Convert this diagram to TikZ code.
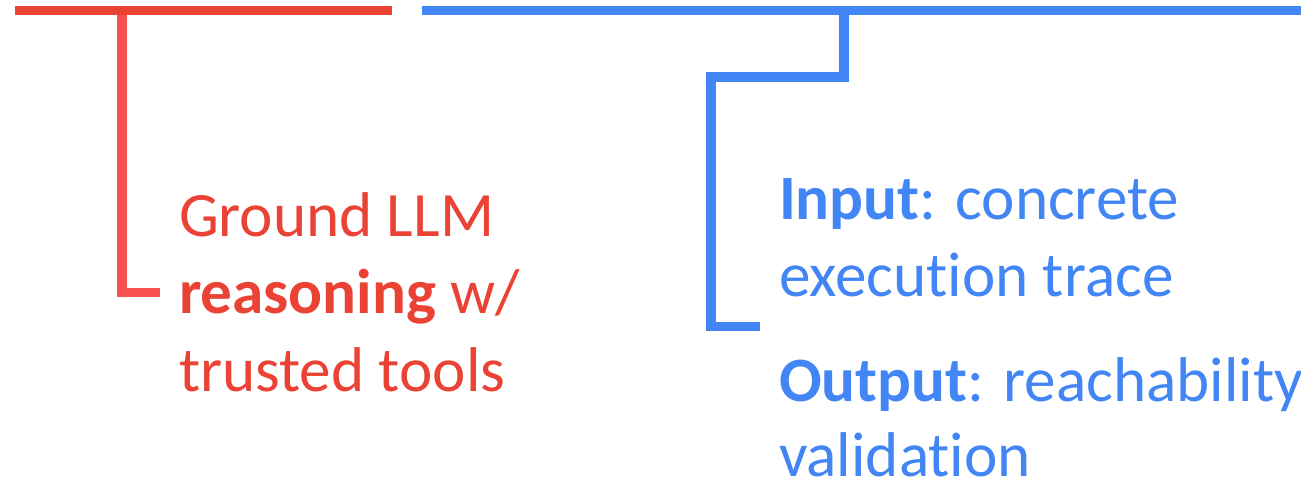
\documentclass[tikz,border=0pt]{standalone}
\usepackage{fontspec}
\setmainfont{Carlito}[Ligatures=NoCommon]
\definecolor{gred}{RGB}{234,67,53}
\definecolor{gredlight}{RGB}{249,80,80}
\definecolor{gblue}{RGB}{66,133,244}
\begin{document}
\begin{tikzpicture}[x=0.5pt,y=-0.5pt,
  bar/.style={line width=4.75pt, line cap=butt, line join=miter},
  txt/.style={anchor=base west, inner sep=0pt, outer sep=0pt,
    font=\fontsize{31.6pt}{38.5pt}\selectfont}]
\useasboundingbox (0,0) rectangle (1301,481);

% top rails
\coordinate (rl) at (15,10.7);
\coordinate (rr) at (392,10.7);
\coordinate (bl) at (422,10.7);
\coordinate (br) at (1301,10.7);
\draw[bar, gred] (rl) -- (rr);
\draw[bar, gblue] (bl) -- (br);

% red text block
\node[txt, text=gred] (g1) at (179,236.7) {Ground LLM};
\node[txt, text=gred] (g2) at (179,313.5) {\textbf{reasoning} w/};
\node[txt, text=gred] (g3) at (179,391) {trusted tools};

% blue text block
\node[txt, text=gblue] (b1) at (779,220) {\textbf{Input}: concrete};
\node[txt, text=gblue] (b2) at (779,296.7) {execution trace};
\node[txt, text=gblue] (b3) at (779,401.7) {\textbf{Output}: reachability};
\node[txt, text=gblue] (b4) at (779,476) {validation};

% red bracket hanging from the red rail
\coordinate (rtop) at (122,15);
\coordinate (rend) at (160,292.5);
\draw[bar, gredlight] (rtop) |- (rend);

% blue stepped bracket hanging from the blue rail
\coordinate (btop) at (844,15);
\coordinate (bstep) at (711,77);
\coordinate (bend) at (760,326.7);
\draw[bar, gblue] (btop) |- (bstep) |- (bend);
\end{tikzpicture}
\end{document}
